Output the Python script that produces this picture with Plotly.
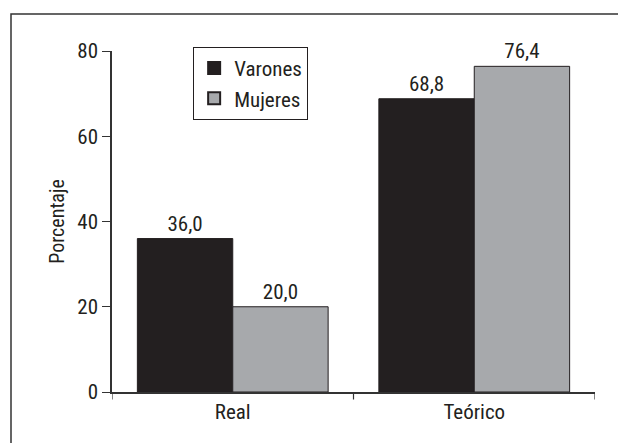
import plotly.graph_objects as go

categories = ["Real", "Teórico"]
varones = [36.0, 68.8]
mujeres = [20.0, 76.4]
series_names = ["Varones", "Mujeres"]
y_ticks = [0, 20, 40, 60, 80]

FONT = "Roboto Condensed, Liberation Sans Narrow, Arial Narrow, sans-serif"
INK = "#231f20"
AXIS = "#333333"

fig = go.Figure()
fig.add_trace(go.Bar(
    x=categories, y=varones, name=series_names[0],
    marker=dict(color="#231f20", line=dict(color=INK, width=1)),
    texttemplate="%{y:.1f}", textposition="outside",
    textfont=dict(family=FONT, size=21, color=INK), cliponaxis=False,
))
fig.add_trace(go.Bar(
    x=categories, y=mujeres, name=series_names[1],
    marker=dict(color="#a7a9ac", line=dict(color=INK, width=1)),
    texttemplate="%{y:.1f}", textposition="outside",
    textfont=dict(family=FONT, size=21, color=INK), cliponaxis=False,
))

fig.update_layout(
    width=618, height=443,
    margin=dict(l=112, r=23, t=51, b=51, autoexpand=False),
    paper_bgcolor="white", plot_bgcolor="white",
    separators=",.",
    barmode="group", bargap=0.21, bargroupgap=0,
    font=dict(family=FONT, size=21, color=INK),
    showlegend=True,
    legend=dict(
        x=0.168, y=1.012, xanchor="left", yanchor="top",
        bordercolor=INK, borderwidth=1, bgcolor="white",
        font=dict(family=FONT, size=21, color=INK),
        tracegroupgap=0, itemsizing="constant",
    ),
    xaxis=dict(
        showline=True, linecolor=AXIS, linewidth=1.5,
        ticks="", showgrid=False, zeroline=False,
        range=[-0.5, 1.5],
        tickfont=dict(family=FONT, size=21, color=INK),
    ),
    yaxis=dict(
        showline=True, linecolor=AXIS, linewidth=1.5,
        ticks="outside", ticklen=8, tickcolor=AXIS, tickwidth=1.2,
        tickvals=y_ticks, range=[0, 80], showgrid=False, zeroline=False,
        tickfont=dict(family=FONT, size=21, color=INK),
        title=dict(text="Porcentaje", font=dict(family=FONT, size=20, color=INK), standoff=7),
    ),
)

# category boundary tick marks on x axis (downward)
for xb in [-0.5, 0.5, 1.5]:
    fig.add_shape(type="line", xref="x", yref="paper", x0=xb, x1=xb, y0=0, y1=-0.022,
                  line=dict(color=AXIS, width=1.2))

# outer frame (extends past right and bottom edges)
fig.add_shape(type="rect", xref="paper", yref="paper",
              x0=(11 - 112) / 483, x1=(640 - 112) / 483,
              y0=(392 - 460) / 341, y1=(392 - 14) / 341,
              line=dict(color=AXIS, width=1.5), fillcolor="rgba(0,0,0,0)", layer="below")

fig.write_html(
    "out.html",
    config={"displayModeBar": False},
    post_script="document.body.style.margin='0';document.body.style.overflow='hidden';",
)
